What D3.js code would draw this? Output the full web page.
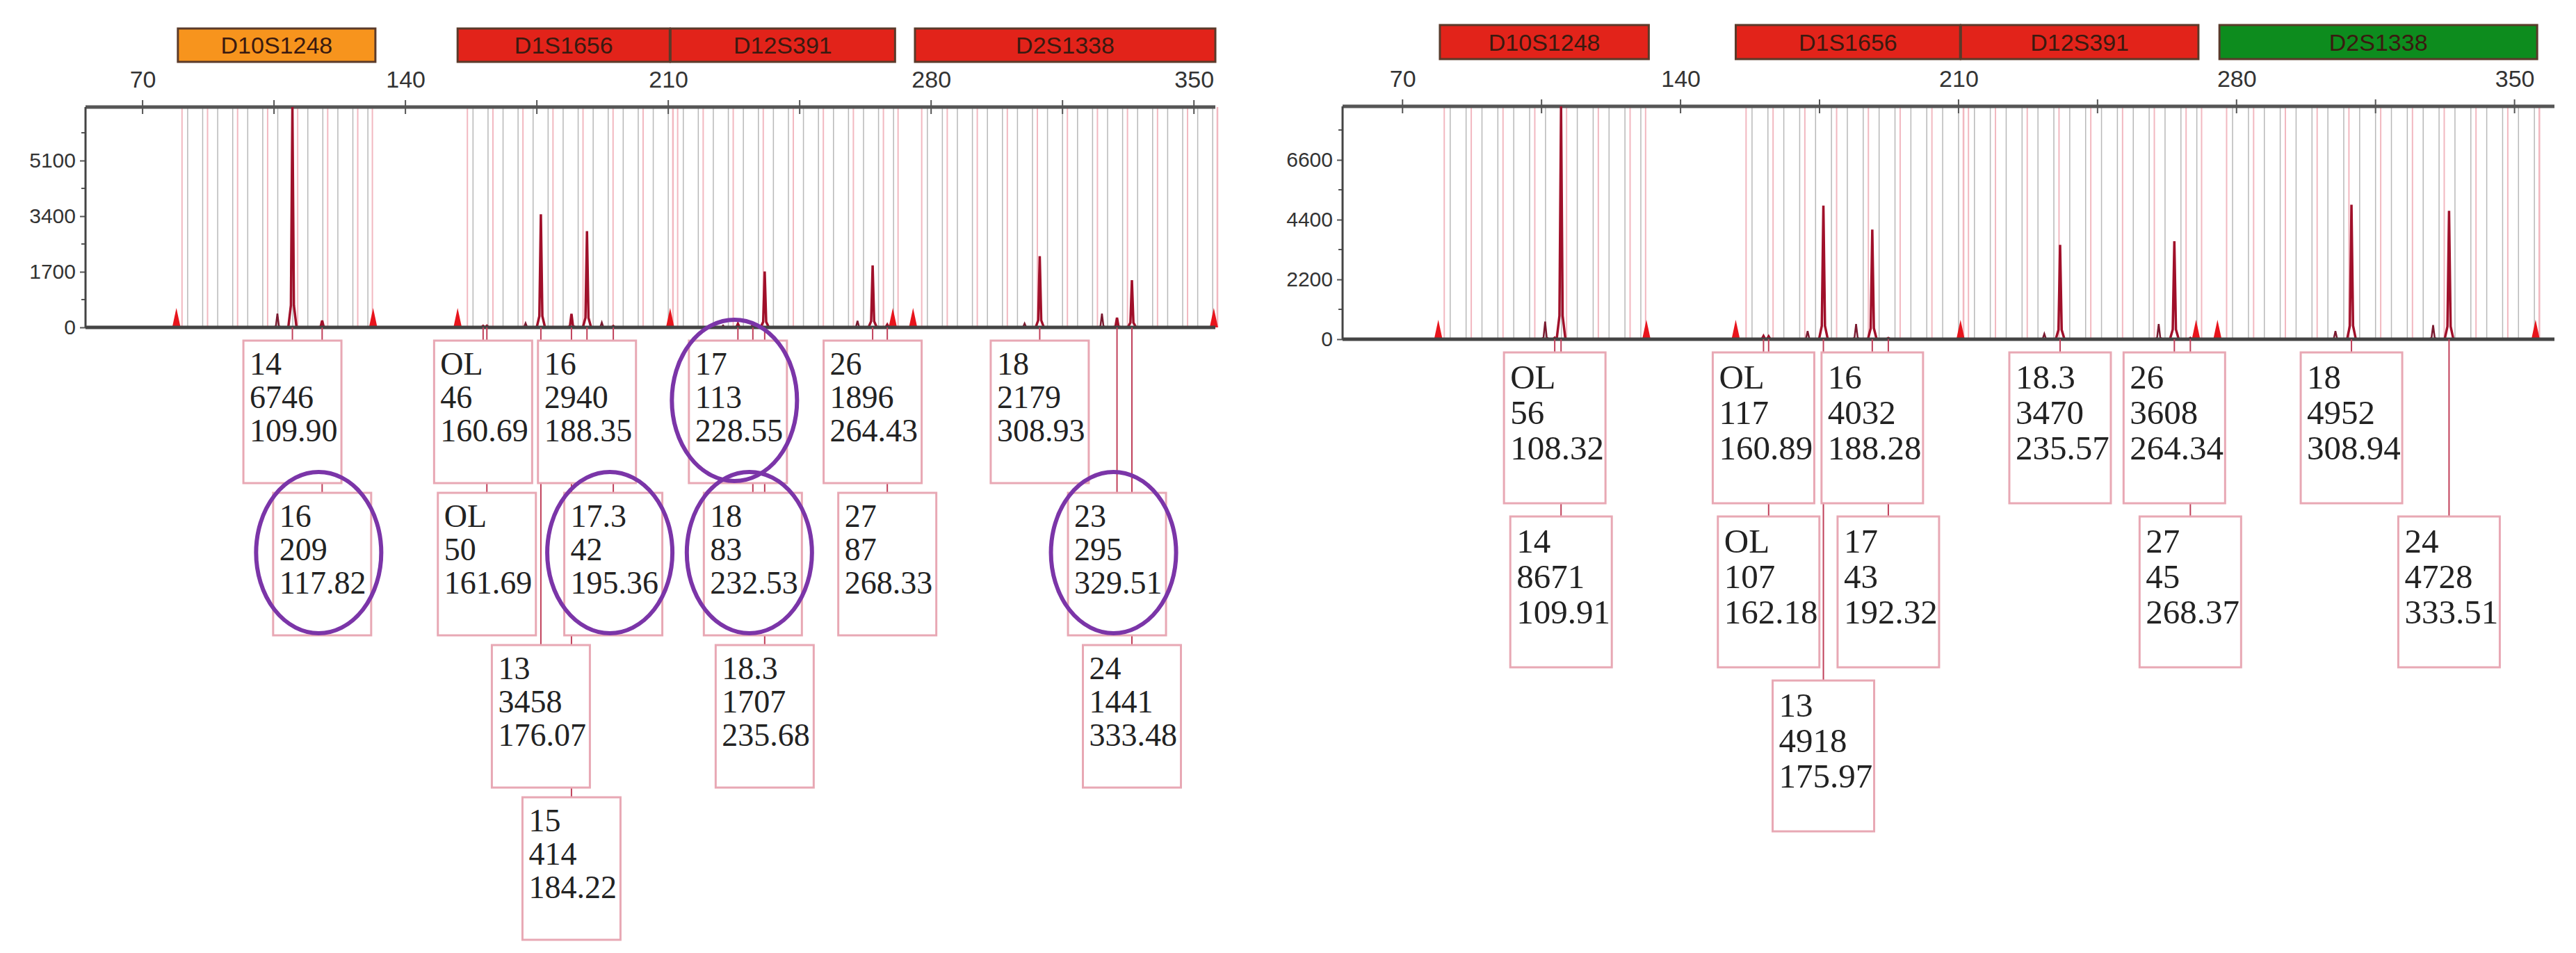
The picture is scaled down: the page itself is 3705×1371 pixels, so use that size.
<!DOCTYPE html>
<html>
<head>
<meta charset="utf-8">
<script src="https://cdn.jsdelivr.net/npm/d3@7"></script>
<style>
  body { margin: 0; background: #fff; }
  svg { display: block; }
</style>
</head>
<body>
<script>
// ---- data ----
const loci = ["D10S1248", "D1S1656", "D12S391", "D2S1338"];
const lociStart = [79.4, 153.9, 210.6, 275.7];
const lociEnd = [132, 210.4, 270.4, 355.7];
const lociColorsA = ["#f7941d", "#e2231a", "#e2231a", "#e2231a"];
const lociColorsB = ["#e2231a", "#e2231a", "#e2231a", "#0d8c1e"];
const sizeTicks = [70, 140, 210, 280, 350];
const ladder = [79, 131.4, 153.9, 210.5, 269.8, 275.2, 355.3];

// bins (gray every repeat, pink microvariants)
const binStart = [82, 158, 214, 279];
const binEnd = [130, 210, 270, 355];

// panel A (left)
const allelesA = ["14", "16", "OL", "OL", "13", "15", "16", "17.3", "17", "18", "18.3", "26", "27", "18", "23", "24"];
const heightsA = [6746, 209, 46, 50, 3458, 414, 2940, 42, 113, 83, 1707, 1896, 87, 2179, 295, 1441];
const sizesA = [109.90, 117.82, 160.69, 161.69, 176.07, 184.22, 188.35, 195.36, 228.55, 232.53, 235.68, 264.43, 268.33, 308.93, 329.51, 333.48];
const circledSizesA = [228.55, 117.82, 195.36, 232.53, 329.51];
const stutterSizesA = [105.9, 172.0, 192.3, 224.6, 260.4, 304.9, 325.5];
const stutterHeightsA = [420, 130, 150, 60, 200, 120, 420];
const yTicksA = [0, 1700, 3400, 5100];

// panel B (right)
const allelesB = ["OL", "14", "OL", "OL", "13", "16", "17", "18.3", "26", "27", "18", "24"];
const heightsB = [56, 8671, 117, 107, 4918, 4032, 43, 3470, 3608, 45, 4952, 4728];
const sizesB = [108.32, 109.91, 160.89, 162.18, 175.97, 188.28, 192.32, 235.57, 264.34, 268.37, 308.94, 333.51];
const stutterSizesB = [105.9, 172.0, 184.2, 231.6, 260.4, 304.9, 329.5];
const stutterHeightsB = [650, 300, 560, 200, 560, 300, 520];
const yTicksB = [0, 2200, 4400, 6600];

const W = 3705, H = 1371;
const svg = d3.select("body").append("svg").attr("width", W).attr("height", H);

function drawPanel(p) {
  const x = d3.scaleLinear().domain(p.xDomain).range([p.left, p.right]);
  const y = d3.scaleLinear().domain([0, p.yMax]).range([p.base, p.top]);
  const g = svg.append("g");

  // marker header
  loci.forEach((name, i) => {
    const x0 = x(lociStart[i]), x1 = x(lociEnd[i]);
    g.append("rect").attr("x", x0).attr("y", p.markY).attr("width", x1 - x0).attr("height", p.markH)
      .attr("fill", p.colors[i]).attr("stroke", "#5a3a2a").attr("stroke-width", 3);
    g.append("text").attr("x", (x0 + x1) / 2).attr("y", p.markY + p.markH / 2 + 12)
      .attr("text-anchor", "middle").attr("font-family", "Liberation Sans, Arial").attr("font-size", 34)
      .attr("fill", "#3a1a10").text(name);
  });

  // bins
  binStart.forEach((b, i) => {
    for (let s = b; s <= binEnd[i]; s += 4) {
      g.append("line").attr("x1", x(s)).attr("x2", x(s)).attr("y1", p.top).attr("y2", p.base)
        .attr("stroke", "#b8b8b8").attr("stroke-width", 1.5);
      if ((s - b) % 8 === 4) {
        g.append("line").attr("x1", x(s + 1.3)).attr("x2", x(s + 1.3)).attr("y1", p.top).attr("y2", p.base)
          .attr("stroke", "#f2b8c0").attr("stroke-width", 2);
      }
    }
    [b - 1.5, binEnd[i] + 1.2].forEach(s => {
      g.append("line").attr("x1", x(s)).attr("x2", x(s)).attr("y1", p.top).attr("y2", p.base)
        .attr("stroke", "#f2b8c0").attr("stroke-width", 2);
    });
  });

  // top axis
  const ax = g.append("g").attr("transform", `translate(0,${p.top})`)
    .call(d3.axisTop(x).tickValues(sizeTicks).tickSize(0).tickPadding(28));
  ax.select(".domain").remove();
  ax.selectAll("text").attr("font-family", "Liberation Sans, Arial").attr("font-size", 34).attr("fill", "#333");
  g.append("line").attr("x1", p.left).attr("x2", p.right + p.axisExtra).attr("y1", p.top).attr("y2", p.top)
    .attr("stroke", "#555").attr("stroke-width", 5);
  d3.range(70, 360, 35).forEach(t => {
    g.append("line").attr("x1", x(t)).attr("x2", x(t)).attr("y1", p.top - 10).attr("y2", p.top + 10)
      .attr("stroke", "#555").attr("stroke-width", 2);
  });

  // y axis
  const ya = g.append("g").attr("transform", `translate(${p.left},0)`)
    .call(d3.axisLeft(y).tickValues(p.yTicks).tickFormat(d3.format("d")).tickSize(8).tickPadding(6));
  ya.select(".domain").remove();
  ya.selectAll("text").attr("font-family", "Liberation Sans, Arial").attr("font-size", 30).attr("fill", "#333");
  ya.selectAll("line").attr("stroke", "#555").attr("stroke-width", 2);
  const half = p.yTicks[1] / 2;
  p.yTicks.concat([p.yTicks[3] + p.yTicks[1]]).forEach(t => {
    if (y(t + half) > p.top)
      g.append("line").attr("x1", p.left - 6).attr("x2", p.left).attr("y1", y(t + half)).attr("y2", y(t + half))
        .attr("stroke", "#555").attr("stroke-width", 2);
  });
  g.append("line").attr("x1", p.left).attr("x2", p.left).attr("y1", p.top).attr("y2", p.base)
    .attr("stroke", "#444").attr("stroke-width", 3);

  // ladder triangles
  ladder.forEach(s => {
    g.append("path").attr("d", `M${x(s) - 6},${p.base} L${x(s)},${p.base - 28} L${x(s) + 6},${p.base} Z`)
      .attr("fill", "#e8141c");
  });

  // peaks
  const line = d3.line().x(d => x(d[0])).y(d => y(Math.min(d[1], p.yMax)));
  const peak = (s, h) => [[s - 1.1, 0], [s - 0.4, h * 0.1], [s, h], [s + 0.4, h * 0.1], [s + 1.1, 0]];
  p.stSizes.forEach((s, i) => {
    g.append("path").attr("d", line(peak(s, p.stHeights[i]))).attr("fill", "none")
      .attr("stroke", "#7a1a30").attr("stroke-width", 2.5);
  });
  p.sizes.forEach((s, i) => {
    g.append("path").attr("d", line(peak(s, p.heights[i]))).attr("fill", "none")
      .attr("stroke", "#a0102a").attr("stroke-width", 3.5);
  });

  // baseline
  g.append("line").attr("x1", p.left).attr("x2", p.right + p.axisExtra).attr("y1", p.base).attr("y2", p.base)
    .attr("stroke", "#444").attr("stroke-width", 5);

  // label boxes: greedy row placement
  const rows = [];
  const boxes = p.sizes.map((s, i) => {
    const cx = x(s);
    let r = 0;
    while (rows[r] && rows[r].some(c => Math.abs(c - cx) < p.boxW - 1)) r++;
    (rows[r] = rows[r] || []).push(cx);
    return { cx, r, i };
  });
  boxes.forEach(b => {
    const top = p.rowTop + b.r * p.rowPitch;
    g.append("line").attr("x1", b.cx).attr("x2", b.cx).attr("y1", p.base).attr("y2", top)
      .attr("stroke", "#c0405a").attr("stroke-width", 2);
  });
  boxes.forEach(b => {
    const top = p.rowTop + b.r * p.rowPitch;
    const bx = b.cx - p.boxW / 2;
    g.append("rect").attr("x", bx).attr("y", top).attr("width", p.boxW).attr("height", p.boxH)
      .attr("fill", "#fff").attr("stroke", "#e8a8b4").attr("stroke-width", 3);
    [p.alleles[b.i], String(p.heights[b.i]), p.sizes[b.i].toFixed(2)].forEach((t, k) => {
      g.append("text").attr("x", bx + 9).attr("y", top + p.line1 + k * p.lineGap)
        .attr("font-family", "Liberation Serif, Times New Roman").attr("font-size", p.font)
        .attr("fill", "#222").text(t);
    });
    if (p.circled && p.circled.includes(p.sizes[b.i])) {
      g.append("ellipse").attr("cx", b.cx - 5).attr("cy", top + 86).attr("rx", 90).attr("ry", 116)
        .attr("fill", "none").attr("stroke", "#7b35a8").attr("stroke-width", 6);
    }
  });
}

drawPanel({
  xDomain: [54.8, 355.7], left: 123, right: 1748, axisExtra: 0,
  top: 154, base: 471, yMax: 6736, yTicks: yTicksA,
  markY: 41, markH: 48, colors: lociColorsA,
  sizes: sizesA, heights: heightsA, alleles: allelesA,
  stSizes: stutterSizesA, stHeights: stutterHeightsA,
  circled: circledSizesA,
  boxW: 141, boxH: 205, rowTop: 490, rowPitch: 219,
  line1: 49, lineGap: 48, font: 46
});
drawPanel({
  xDomain: [54.9, 359], left: 1931, right: 3668, axisExtra: 6,
  top: 153, base: 488, yMax: 8570, yTicks: yTicksB,
  markY: 36, markH: 49, colors: lociColorsB,
  sizes: sizesB, heights: heightsB, alleles: allelesB,
  stSizes: stutterSizesB, stHeights: stutterHeightsB,
  circled: null,
  boxW: 146, boxH: 217, rowTop: 507, rowPitch: 236,
  line1: 52, lineGap: 51, font: 49
});
</script>
</body>
</html>
